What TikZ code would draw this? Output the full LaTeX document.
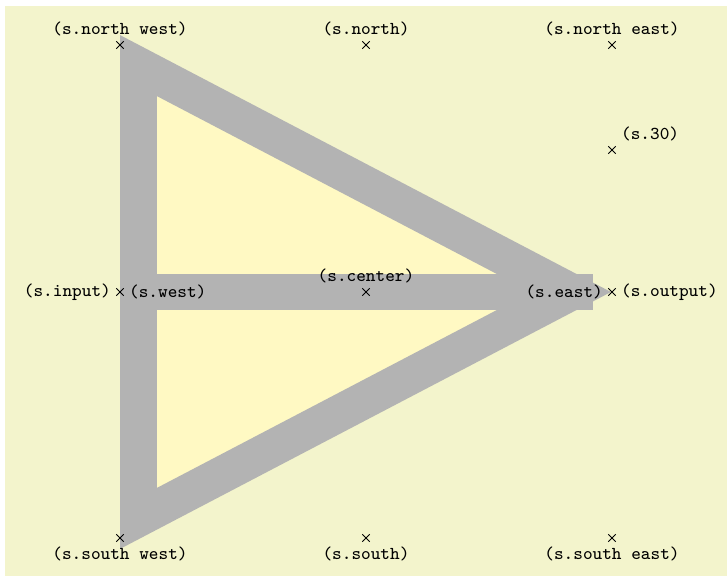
\documentclass[tikz,border=0pt]{standalone}
\usepackage{tikz}
\usetikzlibrary{positioning,shapes.misc}
\definecolor{paper}{RGB}{243,244,204}
\definecolor{shapefill}{RGB}{255,249,195}
\definecolor{shapeline}{RGB}{179,179,179}
\tikzset{
  anchormark/.style={cross out, draw=black, line width=0.4pt, minimum size=2.83pt, inner sep=0pt, outer sep=0pt},
  anchorlabel/.style={font=\scriptsize\ttfamily, inner sep=0.333em}
}

\begin{document}
\begin{tikzpicture}[x=0.385pt, y=-0.385pt]
      \useasboundingbox (0,0) rectangle (727,576);
      \fill[paper] (5,6) rectangle (727,576);

      % the shape: outline and middle bar
      \draw[draw=shapeline, fill=shapefill, line width=0.5cm] (138.5,65.6) -- (571.1,292) -- (138.5,518.4) -- cycle;
      \draw[draw=shapeline, line width=0.5cm] (138.5,292) -- (593,292);

      % anchors
      \node[anchormark] (nw) at (120,45) {};
      \node[anchormark] (n) at (366,45) {};
      \node[anchormark] (ne) at (612,45) {};
      \node[anchormark] (a30) at (612,150) {};
      \node[anchormark] (w) at (120,292) {};
      \node[anchormark] (c) at (366,292) {};
      \node[anchormark] (e) at (612,292) {};
      \node[anchormark] (sw) at (120,538) {};
      \node[anchormark] (s) at (366,538) {};
      \node[anchormark] (se) at (612,538) {};

      \node[anchorlabel, above=0pt of nw.center] (lnw) {(s.north west)};
      \node[anchorlabel, above=0pt of n.center] (ln) {(s.north)};
      \node[anchorlabel, above=0pt of ne.center] (lne) {(s.north east)};
      \node[anchorlabel, above right=0pt of a30.center] (l30) {(s.30)};
      \node[anchorlabel, left=0pt of w.center] (linput) {(s.input)};
      \node[anchorlabel, right=0pt of w.center] (lw) {(s.west)};
      \node[anchorlabel, above=0pt of c.center] (lc) {(s.center)};
      \node[anchorlabel, left=0pt of e.center] (le) {(s.east)};
      \node[anchorlabel, right=0pt of e.center] (loutput) {(s.output)};
      \node[anchorlabel, below=0pt of sw.center] (lsw) {(s.south west)};
      \node[anchorlabel, below=0pt of s.center] (ls) {(s.south)};
      \node[anchorlabel, below=0pt of se.center] (lse) {(s.south east)};
    \end{tikzpicture}
\end{document}
